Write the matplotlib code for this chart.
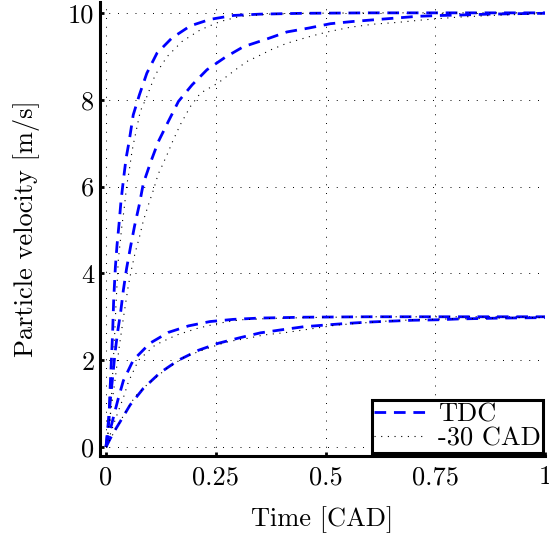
import numpy as np
import matplotlib
matplotlib.use('Agg')
import matplotlib.pyplot as plt

plt.rcParams['font.family'] = ['cmr10', 'DejaVu Serif']
plt.rcParams['mathtext.fontset'] = 'cm'
plt.rcParams['axes.unicode_minus'] = False

# values
# TDC (dashed blue), fast and slow response towards 10 m/s
t_tdc_10a = [0, 0.0068, 0.0084, 0.0107, 0.013, 0.015, 0.0175, 0.0213, 0.025, 0.0297, 0.034, 0.0396,
             0.0457, 0.0525, 0.062, 0.076, 0.093, 0.116, 0.15, 0.192, 0.237, 0.29, 0.35, 0.45, 0.6, 0.8, 1.0]
v_tdc_10a = [0, 0.62, 1.13, 1.66, 2.16, 2.62, 3.4, 4.14, 4.64, 5.14, 5.65, 6.15,
             6.65, 7.03, 7.65, 8.11, 8.61, 9.07, 9.42, 9.70, 9.85, 9.94, 9.97, 9.99, 10, 10, 10]
t_tdc_10b = [0, 0.005, 0.0105, 0.0155, 0.0205, 0.026, 0.0335, 0.0396, 0.047, 0.056, 0.065, 0.076, 0.085,
             0.102, 0.119, 0.142, 0.165, 0.196, 0.23, 0.272, 0.313, 0.367, 0.412, 0.462, 0.511, 0.561,
             0.61, 0.66, 0.709, 0.763, 0.808, 0.87, 0.93, 1.0]
v_tdc_10b = [0, 0.55, 1.15, 1.65, 2.16, 2.62, 3.12, 3.62, 4.12, 4.62, 5.09, 5.59, 6.07,
             6.57, 7.03, 7.5, 7.96, 8.34, 8.69, 8.98, 9.22, 9.40, 9.56, 9.65, 9.75, 9.80,
             9.84, 9.88, 9.92, 9.94, 9.95, 9.97, 9.98, 9.99]
# TDC towards 3 m/s
t_tdc_3a = [0, 0.007, 0.014, 0.021, 0.028, 0.0396, 0.062, 0.1, 0.142, 0.188, 0.237, 0.29, 0.35, 0.45, 0.6, 0.8, 1.0]
v_tdc_3a = [0, 0.3, 0.57, 0.85, 1.12, 1.53, 2.0, 2.39, 2.64, 2.79, 2.89, 2.94, 2.97, 2.99, 3.0, 3.0, 3.0]
t_tdc_3b = [0, 0.01, 0.02, 0.032, 0.055, 0.085, 0.123, 0.165, 0.211, 0.256, 0.306, 0.352, 0.40, 0.45,
            0.5, 0.553, 0.603, 0.65, 0.70, 0.755, 0.804, 0.9, 1.0]
v_tdc_3b = [0, 0.2, 0.38, 0.58, 0.97, 1.35, 1.71, 2.0, 2.23, 2.39, 2.52, 2.63, 2.70, 2.77,
            2.81, 2.85, 2.88, 2.90, 2.92, 2.93, 2.95, 2.97, 2.98]

# -30 CAD (dotted black)
t_cad_10a = [0, 0.009, 0.0125, 0.015, 0.0175, 0.02, 0.0228, 0.028, 0.032, 0.036, 0.041, 0.047, 0.053,
             0.0586, 0.062, 0.078, 0.093, 0.112, 0.139, 0.173, 0.215, 0.26, 0.306, 0.37, 0.45, 0.6, 0.8, 1.0]
v_cad_10a = [0, 0.6, 1.15, 1.65, 2.15, 2.65, 3.3, 4.31, 4.69, 5.08, 5.46, 6.01, 6.38,
             6.77, 6.96, 7.73, 8.07, 8.57, 8.99, 9.34, 9.61, 9.80, 9.92, 9.97, 9.99, 10, 10, 10]
t_cad_10b = [0, 0.01, 0.02, 0.03, 0.04, 0.051, 0.0586, 0.066, 0.076, 0.085, 0.0966, 0.108, 0.119, 0.127,
             0.142, 0.15, 0.169, 0.192, 0.215, 0.256, 0.295, 0.321, 0.344, 0.378, 0.412, 0.466, 0.504,
             0.557, 0.61, 0.664, 0.724, 0.80, 0.877, 0.96, 1.0]
v_cad_10b = [0, 0.75, 1.5, 2.3, 3.0, 3.73, 4.12, 4.46, 4.83, 5.21, 5.58, 5.92, 6.29, 6.46,
             6.80, 7.0, 7.42, 7.84, 8.15, 8.39, 8.69, 8.88, 8.99, 9.16, 9.30, 9.46, 9.56,
             9.67, 9.74, 9.78, 9.84, 9.90, 9.94, 9.97, 9.98]
t_cad_3a = [0, 0.01, 0.02, 0.03, 0.04, 0.051, 0.074, 0.112, 0.161, 0.207, 0.256, 0.306, 0.37, 0.45, 0.6, 0.8, 1.0]
v_cad_3a = [0, 0.3, 0.6, 0.88, 1.15, 1.5, 2.0, 2.35, 2.58, 2.73, 2.85, 2.93, 2.96, 2.98, 3.0, 3.0, 3.0]
t_cad_3b = [0, 0.015, 0.03, 0.043, 0.066, 0.097, 0.139, 0.18, 0.23, 0.279, 0.321, 0.359, 0.412, 0.466,
            0.526, 0.587, 0.64, 0.70, 0.778, 0.854, 0.94, 1.0]
v_cad_3b = [0, 0.28, 0.55, 0.78, 1.16, 1.47, 1.81, 2.08, 2.27, 2.43, 2.50, 2.58, 2.64, 2.72,
            2.81, 2.86, 2.90, 2.93, 2.95, 2.96, 2.98, 2.98]

xticks = [0, 0.25, 0.5, 0.75, 1]
xticklabels = ['0', '0.25', '0.5', '0.75', '1']
yticks = [0, 2, 4, 6, 8, 10]

fig = plt.figure(figsize=(5.49, 5.37), dpi=100)
ax = fig.add_axes([100/549, 1-456/537, 445/549, 454/537])

dash_kw = dict(color='blue', lw=2.0, dashes=(4.2, 2.8))
dot_kw = dict(color='black', lw=0.8, dashes=(1, 5))

ax.plot(t_tdc_10a, v_tdc_10a, label='TDC', **dash_kw)
ax.plot(t_cad_10a, v_cad_10a, label='-30 CAD', **dot_kw)
ax.plot(t_tdc_10b, v_tdc_10b, **dash_kw)
ax.plot(t_cad_10b, v_cad_10b, **dot_kw)
ax.plot(t_tdc_3a, v_tdc_3a, **dash_kw)
ax.plot(t_cad_3a, v_cad_3a, **dot_kw)
ax.plot(t_tdc_3b, v_tdc_3b, **dash_kw)
ax.plot(t_cad_3b, v_cad_3b, **dot_kw)

ax.set_xlim(-0.0137, 1.0)
ax.set_ylim(-0.207, 10.25)
ax.set_xticks(xticks)
ax.set_xticklabels(xticklabels)
ax.set_yticks(yticks)
ax.grid(True, color='black', lw=0.7, dashes=(1, 8))
ax.tick_params(direction='in', length=3, width=2, labelsize=19, pad=4)
ax.tick_params(axis='x', pad=7)
for s in ['top', 'right']:
    ax.spines[s].set_visible(False)
for s in ['left', 'bottom']:
    ax.spines[s].set_linewidth(2.2)

ax.set_xlabel('Time [CAD]', fontsize=19, labelpad=12)
ax.set_ylabel('Particle velocity [m/s]', fontsize=19, labelpad=20)

leg = ax.legend(loc='lower right', bbox_to_anchor=(0.996, 0.007), borderaxespad=0,
                fontsize=19, fancybox=False, framealpha=1, edgecolor='black',
                handlelength=1.9, labelspacing=0.0, borderpad=0.1, handletextpad=0.5)
leg.get_frame().set_linewidth(2.2)

plt.savefig('out.png', dpi=100)
